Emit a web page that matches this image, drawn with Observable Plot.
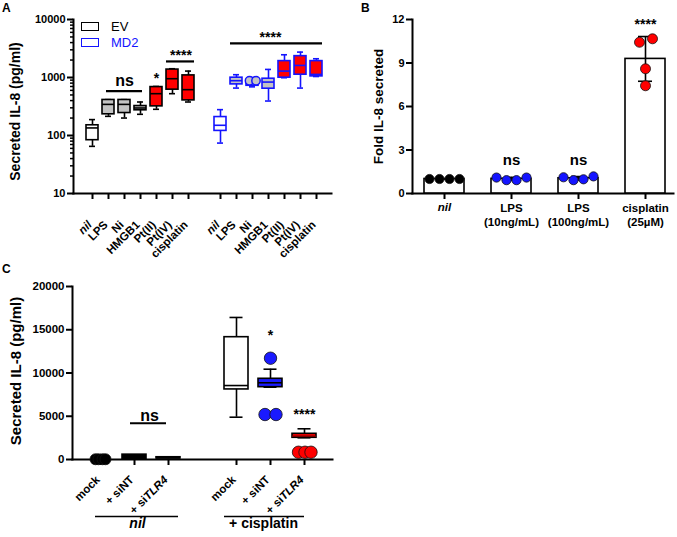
<!DOCTYPE html>
<html><head><meta charset="utf-8">
<script src="https://cdn.jsdelivr.net/npm/d3@7"></script>
<script src="https://cdn.jsdelivr.net/npm/@observablehq/plot@0.6"></script>
<style>
html,body{margin:0;padding:0;background:#fff;}
#fig{position:relative;width:677px;height:537px;overflow:hidden;background:#fff;font-family:"Liberation Sans",Arial,Helvetica,sans-serif;}
.panel{position:absolute;}
.plabel{position:absolute;font-weight:bold;font-size:12px;line-height:12px;}
.legbox{position:absolute;width:16px;height:7px;border:1.6px solid #000;background:#fff;}
.legtxt{position:absolute;font-size:13px;line-height:13px;}
</style></head><body><div id="fig"></div>
<script>
// ---------- Panel A data (box plots, log scale) ----------
const aTreatments = ["nil","LPS","Ni","HMGB1","Pt(II)","Pt(IV)","cisplatin"];
const aCellLines = ["EV","MD2"];
const evMin  = [65, 214, 200, 232, 283, 526, 378];
const evQ1   = [83, 232, 244, 272, 318, 617, 403];
const evMed  = [135, 344, 344, 298, 526, 953, 617];
const evQ3   = [150, 410, 410, 322, 684, 1370, 1087];
const evMax  = [188, 415, 415, 378, 700, 1416, 1290];
const md2Min = [74, 657, 690, 393, 990, 657, 1040];
const md2Q1  = [120, 761, 720, 641, 993, 1117, 1045];
const md2Med = [150, 881, 790, 834, 1290, 1615, 1130];
const md2Q3  = [208, 993, 850, 953, 1917, 2334, 1917];
const md2Max = [279, 1117, 1000, 1378, 2466, 2740, 2104];
const md2NiPoints = [880, 880];
const aYTicks = [10, 100, 1000, 10000];
const aSigLabels = ["ns", "*", "****", "****"];
const aSigAt = ["EV|Ni", "EV|Pt(II)", "EV|Pt(IV)", "MD2|HMGB1"];
const aSigY = [891, 946, 2433, 4898];
const aBarFrom = ["EV|LPS", "EV|Pt(IV)", "MD2|LPS"];
const aBarTo = ["EV|HMGB1", "EV|cisplatin", "MD2|cisplatin"];
const aBarY = [583, 1892, 3864];

// ---------- Panel B data (bars + replicates) ----------
const bGroups = ["nil", "LPS (10ng/mL)", "LPS (100ng/mL)", "cisplatin (25µM)"];
const bLabels = ["nil", "LPS\n(10ng/mL)", "LPS\n(100ng/mL)", "cisplatin\n(25µM)"];
const bNil = [1.0, 1.0, 1.0, 1.0];
const bLps10 = [1.1, 0.92, 0.92, 1.1];
const bLps100 = [1.12, 0.92, 0.98, 1.18];
const bCis = [10.43, 10.67, 8.6, 7.43];
const bYTicks = [0, 3, 6, 9, 12];
const bSigLabels = ["ns", "ns", "****"];
const bSigAt = ["LPS (10ng/mL)", "LPS (100ng/mL)", "cisplatin (25µM)"];
const bSigY = [2.33, 2.33, 11.67];

// ---------- Panel C data (box plots, linear) ----------
const cGroups = ["nil", "+ cisplatin"];
const cConditions = ["mock", "+ siNT", "+ siTLR4"];
const cMin = [null, 0, 90, 4890, 8360, 2510];
const cQ1  = [null, 80, 120, 8100, 8360, 2510];
const cMed = [null, 300, 190, 8550, 8870, 2690];
const cQ3  = [null, 560, 260, 14140, 9330, 2970];
const cMax = [null, 580, 280, 16420, 10440, 3550];
const cPointKeys = ["nil|mock","nil|mock","nil|mock","nil|mock",
  "+ cisplatin|+ siNT","+ cisplatin|+ siNT","+ cisplatin|+ siNT",
  "+ cisplatin|+ siTLR4","+ cisplatin|+ siTLR4","+ cisplatin|+ siTLR4"];
const cPointValues = [30, 30, 30, 30, 11710, 5200, 5200, 840, 840, 840];
const cYTicks = [0, 5000, 10000, 15000, 20000];
const cSigLabels = ["ns", "*", "****"];
const cSigAt = ["nil|+ siNT", "+ cisplatin|+ siNT", "+ cisplatin|+ siTLR4"];
const cSigY = [5087, 14277, 5168];
const cNsBarY = 4197;

// ---------- styles ----------
const FONT = '"Liberation Sans", Arial, Helvetica, sans-serif';
const BLUE = "#1414ff", RED = "#ff0000", GRAY = "#c4c4c4";
const treatFill = {"nil":"#ffffff","LPS":GRAY,"Ni":GRAY,"HMGB1":GRAY,"Pt(II)":RED,"Pt(IV)":RED,"cisplatin":RED};
const lineStroke = {EV:"#000000", MD2:BLUE};
const fig = document.getElementById("fig");
function place(el, left, top) {
  const d = document.createElement("div");
  d.className = "panel"; d.style.left = left + "px"; d.style.top = top + "px";
  d.appendChild(el); fig.appendChild(d);
}
const baseStyle = {fontFamily: FONT, fontSize: "11px", color: "black", background: "transparent", overflow: "visible"};
const axisLines = () => [
  Plot.frame({anchor: "left", strokeWidth: 2}),
  Plot.frame({anchor: "bottom", strokeWidth: 2})
];

// ================= Panel A =================
const aStats = {EV: [evMin, evQ1, evMed, evQ3, evMax], MD2: [md2Min, md2Q1, md2Med, md2Q3, md2Max]};
const aRows = [];
aCellLines.forEach(cl => aTreatments.forEach((t, i) => {
  const s = aStats[cl];
  aRows.push({key: cl + "|" + t, line: cl, t, min: s[0][i], q1: s[1][i], med: s[2][i], q3: s[3][i], max: s[4][i]});
}));
const aDomain = [...aRows.filter(r => r.line === "EV").map(r => r.key), "gap", ...aRows.filter(r => r.line === "MD2").map(r => r.key)];
const aMinor = [];
[10, 100, 1000].forEach(dec => { for (let k = 2; k <= 9; k++) aMinor.push(k * dec); });
const aStroke = r => lineStroke[r.line];
const SW = 1.6;
const aMarks = [
  ...axisLines(),
  Plot.axisY({ticks: aMinor, tickSize: 3, tickFormat: () => "", strokeWidth: 1.5, label: null}),
  Plot.axisY({ticks: aYTicks, tickSize: 6, tickPadding: 2, tickFormat: d3.format("d"), fontSize: 11, fontWeight: "bold", strokeWidth: 2, label: null}),
  Plot.axisX({ticks: aRows.map(r => r.key), tickSize: 6, tickFormat: () => "", strokeWidth: 2, label: null}),
  Plot.ruleX(aRows, {x: "key", y1: "min", y2: "max", stroke: aStroke, strokeWidth: SW}),
  Plot.tickY(aRows, {x: "key", y: "min", stroke: aStroke, strokeWidth: SW, insetLeft: 3, insetRight: 3}),
  Plot.tickY(aRows, {x: "key", y: "max", stroke: aStroke, strokeWidth: SW, insetLeft: 3, insetRight: 3}),
  Plot.barY(aRows, {x: "key", y1: "q1", y2: "q3", fill: r => treatFill[r.t], stroke: aStroke, strokeWidth: SW}),
  Plot.tickY(aRows, {x: "key", y: "med", stroke: aStroke, strokeWidth: SW}),
  Plot.dot([md2NiPoints[0]], {x: () => "MD2|Ni", y: d => d, dx: -3, r: 4.2, fill: GRAY, stroke: BLUE, strokeWidth: 1.5}),
  Plot.dot([md2NiPoints[1]], {x: () => "MD2|Ni", y: d => d, dx: 3.5, r: 4.2, fill: GRAY, stroke: BLUE, strokeWidth: 1.5}),
  // tick labels
  Plot.text(aRows.filter(r => r.t !== "nil"), {x: "key", text: "t", frameAnchor: "bottom", rotate: -45, textAnchor: "end", dx: 0, dy: 32, fontSize: 11.5, fontWeight: "bold"}),
  Plot.text(aRows.filter(r => r.t === "nil"), {x: "key", text: "t", frameAnchor: "bottom", rotate: -45, textAnchor: "end", dx: 0, dy: 32, fontSize: 11.5, fontWeight: "bold", fontStyle: "italic"}),
  // y title
  Plot.text(["Secreted IL-8 (pg/ml)"], {frameAnchor: "left", textAnchor: "middle", rotate: -90, dx: -58, dy: 5, fontSize: 14, fontWeight: "bold"}),
  // significance bars
  Plot.ruleY([0], {x1: () => aBarFrom[0], x2: () => aBarTo[0], y: () => aBarY[0], strokeWidth: 2.2, insetLeft: 4, insetRight: 4}),
  Plot.ruleY([0], {x1: () => aBarFrom[1], x2: () => aBarTo[1], y: () => aBarY[1], strokeWidth: 2.2}),
  Plot.ruleY([0], {x1: () => aBarFrom[2], x2: () => aBarTo[2], y: () => aBarY[2], strokeWidth: 2.2}),
  Plot.text([0], {x: () => aSigAt[0], y: () => aSigY[0], text: () => aSigLabels[0], fontSize: 16, fontWeight: "bold"}),
  Plot.text([0], {x: () => aSigAt[1], y: () => aSigY[1], text: () => aSigLabels[1], fontSize: 14, fontWeight: "bold"}),
  Plot.text([0], {x: () => aSigAt[2], y: () => aSigY[2], text: () => aSigLabels[2], dx: 8.5, fontSize: 14, fontWeight: "bold"}),
  Plot.text([0], {x: () => aSigAt[3], y: () => aSigY[3], text: () => aSigLabels[3], dx: 2, fontSize: 14, fontWeight: "bold"})
];
const plotA = Plot.plot({
  width: 340, height: 260, marginLeft: 73, marginRight: 9, marginTop: 19, marginBottom: 67,
  style: baseStyle,
  x: {domain: aDomain, paddingInner: 0.22, paddingOuter: 0, insetLeft: 6, insetRight: 1},
  y: {type: "log", domain: [10, 10000]},
  color: {type: "identity"},
  marks: aMarks
});
place(plotA, 0, 0);

// ================= Panel B =================
const bSets = [bNil, bLps10, bLps100, bCis];
const bRows = bGroups.map((g, i) => ({g, label: bLabels[i], mean: d3.mean(bSets[i]), sd: d3.deviation(bSets[i]) || 0}));
const bDotFill = ["#000000", BLUE, BLUE, RED];
const bDotDx = [[-15, -5, 5, 15], [-15, -5, 5, 15], [-15, -5, 5, 15], [-6, 7, 0, 0]];
const bDotR = [4.6, 4.6, 4.6, 5];
const bMarks = [
  ...axisLines(),
  Plot.axisY({ticks: bYTicks, tickSize: 6, tickPadding: 2, fontSize: 11, fontWeight: "bold", strokeWidth: 2, label: null}),
  Plot.axisX({ticks: bGroups, tickSize: 6, tickFormat: () => "", strokeWidth: 2, label: null}),
  Plot.barY(bRows, {x: "g", y: "mean", fill: "white", stroke: "black", strokeWidth: SW}),
  Plot.ruleX(bRows, {x: "g", y1: r => r.mean - r.sd, y2: r => r.mean + r.sd, strokeWidth: SW}),
  Plot.tickY(bRows, {x: "g", y: r => r.mean + r.sd, strokeWidth: SW, insetLeft: 13, insetRight: 13}),
  Plot.tickY(bRows, {x: "g", y: r => r.mean - r.sd, strokeWidth: SW, insetLeft: 13, insetRight: 13})
];
bGroups.forEach((g, gi) => bSets[gi].forEach((v, ri) => {
  bMarks.push(Plot.dot([{g, v}], {x: "g", y: "v", dx: bDotDx[gi][ri], r: bDotR[gi], fill: bDotFill[gi], stroke: "#111", strokeWidth: 0.8}));
}));
bMarks.push(
  Plot.text(bRows.filter(r => r.g !== "nil"), {x: "g", text: "label", frameAnchor: "bottom", lineAnchor: "top", dy: 9.5, lineHeight: 1.16, fontSize: 11.5, fontWeight: "bold"}),
  Plot.text(bRows.filter(r => r.g === "nil"), {x: "g", text: "label", frameAnchor: "bottom", lineAnchor: "top", dy: 9.5, fontSize: 11.5, fontWeight: "bold", fontStyle: "italic"}),
  Plot.text(["Fold IL-8 secreted"], {frameAnchor: "left", textAnchor: "middle", rotate: -90, dx: -34, fontSize: 13.5, fontWeight: "bold"}),
  Plot.text(bSigLabels.map((s, i) => ({s, g: bSigAt[i], y: bSigY[i]})).filter(d => d.s === "ns"), {x: "g", y: "y", text: "s", fontSize: 15, fontWeight: "bold"}),
  Plot.text(bSigLabels.map((s, i) => ({s, g: bSigAt[i], y: bSigY[i]})).filter(d => d.s !== "ns"), {x: "g", y: "y", text: "s", fontSize: 14, fontWeight: "bold"})
);
const plotB = Plot.plot({
  width: 337, height: 260, marginLeft: 72, marginRight: 4, marginTop: 19, marginBottom: 67,
  style: baseStyle,
  x: {domain: bGroups, paddingInner: 0.41, paddingOuter: 0, insetLeft: 10.7, insetRight: 6.3},
  y: {domain: [0, 12]},
  color: {type: "identity"},
  marks: bMarks
});
place(plotB, 340, 0);

// ================= Panel C =================
const cRows = [];
cGroups.forEach((g, gi) => cConditions.forEach((c, ci) => {
  const i = gi * 3 + ci;
  cRows.push({key: g + "|" + c, g, c, min: cMin[i], q1: cQ1[i], med: cMed[i], q3: cQ3[i], max: cMax[i]});
}));
const cDomain = [...cRows.slice(0, 3).map(r => r.key), "gap", ...cRows.slice(3).map(r => r.key)];
const cBoxes = cRows.filter(r => r.q1 != null);
const cBoxFill = {"nil|+ siNT": "#000000", "nil|+ siTLR4": "#000000", "+ cisplatin|mock": "#ffffff", "+ cisplatin|+ siNT": "#1a1aff", "+ cisplatin|+ siTLR4": RED};
const cMedStroke = {"+ cisplatin|+ siTLR4": "#7a0000"};
const cPointFill = {"nil|mock": "#000000", "+ cisplatin|+ siNT": "#1a1aff", "+ cisplatin|+ siTLR4": RED};
const cPointDx = [-5, -2, 2, 5, 0, -5.5, 5.5, -6, 0.5, 6.5];
const cPointR = {"nil|mock": 5.5, "+ cisplatin|+ siNT": 6.2, "+ cisplatin|+ siTLR4": 6.2};
const cMarks = [
  ...axisLines(),
  Plot.axisY({ticks: cYTicks, tickSize: 6, tickPadding: 2, tickFormat: d3.format("d"), fontSize: 11.5, fontWeight: "bold", strokeWidth: 2, label: null}),
  Plot.axisX({ticks: cRows.map(r => r.key), tickSize: 6, tickFormat: () => "", strokeWidth: 2, label: null}),
  Plot.ruleX(cBoxes, {x: "key", y1: "min", y2: "max", strokeWidth: SW}),
  Plot.tickY(cBoxes.filter(r => r.g !== "nil"), {x: "key", y: "min", strokeWidth: SW, insetLeft: 5.5, insetRight: 5.5}),
  Plot.tickY(cBoxes.filter(r => r.g !== "nil"), {x: "key", y: "max", strokeWidth: SW, insetLeft: 5.5, insetRight: 5.5}),
  Plot.barY(cBoxes, {x: "key", y1: "q1", y2: "q3", fill: r => cBoxFill[r.key], stroke: "black", strokeWidth: SW}),
  Plot.tickY(cBoxes, {x: "key", y: "med", stroke: r => cMedStroke[r.key] || "#000000", strokeWidth: SW})
];
cPointKeys.forEach((k, i) => {
  cMarks.push(Plot.dot([{k, v: cPointValues[i]}], {x: "k", y: "v", dx: cPointDx[i], r: cPointR[k], fill: cPointFill[k], stroke: "#111", strokeWidth: 0.8}));
});
cMarks.push(
  Plot.text(cRows, {x: "key", text: "c", frameAnchor: "bottom", rotate: -45, textAnchor: "end", dx: 0, dy: 21, fontSize: 11.5, fontWeight: "bold"}),
  Plot.text(["Secreted IL-8 (pg/ml)"], {frameAnchor: "left", textAnchor: "middle", rotate: -90, dx: -56, dy: -2, fontSize: 15, fontWeight: "bold"}),
  Plot.ruleY([0], {x1: () => cRows[0].key, x2: () => cRows[2].key, y: () => 0, dy: 57, strokeWidth: 1.6, insetLeft: 7, insetRight: 2}),
  Plot.ruleY([0], {x1: () => cRows[3].key, x2: () => cRows[5].key, y: () => 0, dy: 57, strokeWidth: 1.6, insetLeft: 0, insetRight: 12}),
  Plot.text([cGroups[0]], {x: () => cRows[1].key, text: d => d, frameAnchor: "bottom", dx: 3, dy: 68.5, fontSize: 14, fontWeight: "bold", fontStyle: "italic"}),
  Plot.text([cGroups[1]], {x: () => cRows[4].key, text: d => d, frameAnchor: "bottom", dx: -7, dy: 68.5, fontSize: 14, fontWeight: "bold"}),
  Plot.ruleY([0], {x1: () => cSigAt[0], x2: () => "nil|+ siTLR4", y: () => cNsBarY, strokeWidth: 2, insetLeft: 8, insetRight: 14}),
  Plot.text([0], {x: () => cSigAt[0], y: () => cSigY[0], text: () => cSigLabels[0], dx: 15, fontSize: 16, fontWeight: "bold"}),
  Plot.text([0], {x: () => cSigAt[1], y: () => cSigY[1], text: () => cSigLabels[1], fontSize: 14, fontWeight: "bold"}),
  Plot.text([0], {x: () => cSigAt[2], y: () => cSigY[2], text: () => cSigLabels[2], fontSize: 14, fontWeight: "bold"})
);
const plotC = Plot.plot({
  width: 340, height: 277, marginLeft: 72, marginRight: 8, marginTop: 26, marginBottom: 78,
  style: baseStyle,
  x: {domain: cDomain, paddingInner: 0.28, paddingOuter: 0, insetLeft: 13.8, insetRight: 12.4},
  y: {domain: [0, 20000]},
  color: {type: "identity"},
  marks: cMarks
});
place(plotC, 0, 260);
// italic gene name inside "+ siTLR4"
plotC.querySelectorAll("text").forEach(t => {
  if (t.textContent === "+ siTLR4") {
    t.textContent = "+ si";
    const ts = document.createElementNS("http://www.w3.org/2000/svg", "tspan");
    ts.setAttribute("font-style", "italic");
    ts.textContent = "TLR4";
    t.appendChild(ts);
  }
});

// ---------- panel letters & legend ----------
function addDiv(cls, text, left, top, extra) {
  const d = document.createElement("div");
  d.className = cls; if (text) d.textContent = text;
  d.style.left = left + "px"; d.style.top = top + "px";
  if (extra) Object.assign(d.style, extra);
  fig.appendChild(d); return d;
}
addDiv("plabel", "A", 2, 2);
addDiv("plabel", "B", 361, 2);
addDiv("plabel", "C", 2, 263);
addDiv("legbox", "", 81, 21.5);
addDiv("legbox", "", 81, 38.3, {borderColor: BLUE});
addDiv("legtxt", "EV", 111, 19.5);
addDiv("legtxt", "MD2", 111, 36, {color: BLUE});
</script></body></html>
